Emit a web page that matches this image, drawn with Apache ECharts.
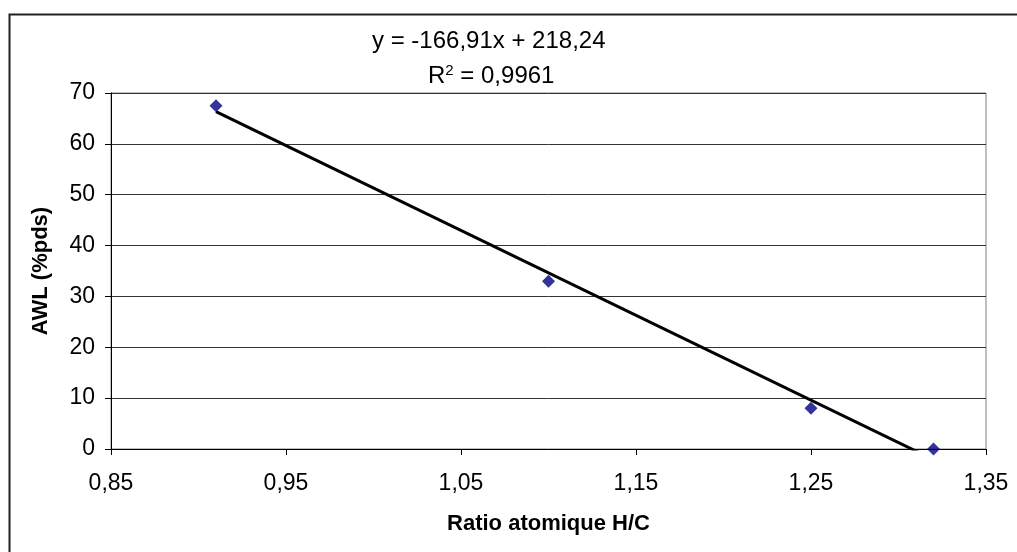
<!DOCTYPE html>
<html>
<head>
<meta charset="utf-8">
<script src="https://cdn.jsdelivr.net/npm/echarts@6/dist/echarts.min.js"></script>
<style>
  html, body { margin: 0; padding: 0; background: #fff; }
  #chart { width: 1017px; height: 552px; }
</style>
</head>
<body>
<div id="chart"></div>
<script>
// data
const hcRatio = [0.91, 1.10, 1.25, 1.32];
const awl = [67.5, 33, 8, 0];
// trendline as printed on the chart
const slope = -166.91;
const intercept = 218.24;
const r2 = "0,9961";

const points = hcRatio.map((x, i) => [x, awl[i]]);
const xLo = Math.min(...hcRatio);
const xHi = Math.max(...hcRatio);
const trend = [[xLo, slope * xLo + intercept], [xHi, slope * xHi + intercept]];

const comma = (v, d) => v.toFixed(d).replace(".", ",");
const font = "Liberation Sans, Arial, sans-serif";

const chart = echarts.init(document.getElementById("chart"));
chart.setOption({
  animation: false,
  textStyle: { fontFamily: font },
  grid: {
    left: 111, right: 31, top: 93, bottom: 103,
    show: true, borderColor: "#808080", borderWidth: 1
  },
  xAxis: {
    type: "value",
    min: 0.85, max: 1.35, interval: 0.1,
    name: "Ratio atomique H/C",
    nameLocation: "middle",
    nameGap: 64,
    nameTextStyle: { fontSize: 22, fontWeight: "bold", color: "#000" },
    axisLine: { lineStyle: { color: "#000", width: 1 } },
    axisTick: { show: true, inside: false, length: 6, lineStyle: { color: "#000" } },
    axisLabel: { fontSize: 23, color: "#000", margin: 23, formatter: v => comma(v, 2) },
    splitLine: { show: false }
  },
  yAxis: {
    type: "value",
    min: 0, max: 70, interval: 10,
    name: "AWL (%pds)",
    nameLocation: "middle",
    nameGap: 59,
    nameTextStyle: { fontSize: 22, fontWeight: "bold", color: "#000" },
    axisLine: { show: true, lineStyle: { color: "#000", width: 1 } },
    axisTick: { show: true, length: 6, lineStyle: { color: "#000" } },
    axisLabel: { fontSize: 23, color: "#000", margin: 16 },
    splitLine: { show: true, lineStyle: { color: "#333", width: 1 } }
  },
  graphic: [
    {
      type: "rect",
      left: 7, top: 12,
      shape: { width: 1100, height: 700 },
      style: { fill: "none", stroke: "#222", lineWidth: 2 },
      silent: true
    },
    {
      type: "text",
      left: 372,
      top: 29,
      style: {
        text: "y = " + comma(slope, 2) + "x + " + comma(intercept, 2),
        font: "24px " + font,
        fill: "#000"
      }
    },
    {
      type: "text",
      left: 428,
      top: 63,
      style: {
        text: "{r|R}{s|2}{r| = " + r2 + "}",
        rich: {
          r: { font: "24px " + font, fill: "#000", verticalAlign: "bottom" },
          s: { font: "15px " + font, fill: "#000", verticalAlign: "top", padding: [0, 0, 10, 0] }
        }
      }
    }
  ],
  series: [
    {
      type: "line",
      data: trend,
      clip: true,
      symbol: "none",
      lineStyle: { color: "#000", width: 3 },
      z: 2
    },
    {
      type: "scatter",
      data: points,
      symbol: "diamond",
      symbolSize: [13, 13],
      itemStyle: { color: "#000080" },
      z: 3
    }
  ]
});
</script>
</body>
</html>
